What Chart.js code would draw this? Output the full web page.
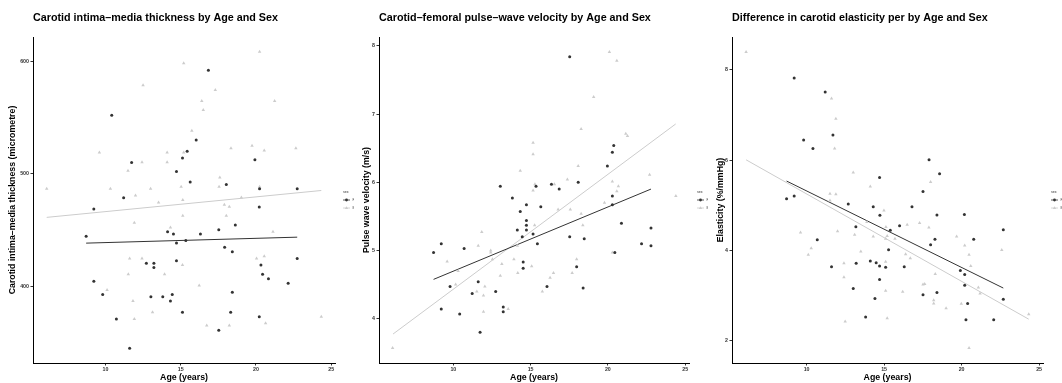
<!DOCTYPE html>
<html><head><meta charset="utf-8">
<script src="https://cdn.jsdelivr.net/npm/chart.js@4.4.0/dist/chart.umd.min.js"></script>
<style>
body{margin:0;background:#fff;width:1062px;height:383px;overflow:hidden;position:relative}
canvas{position:absolute;top:0}
</style></head><body>
<canvas id="c1" width="354" height="383" style="left:0"></canvas>
<canvas id="c2" width="354" height="383" style="left:354px"></canvas>
<canvas id="c3" width="354" height="383" style="left:708px"></canvas>
<script>
// shared x ticks
const ageTicks = [10, 15, 20, 25];

// panel 1 - carotid IMT (micrometre)
const imtTicks = [400, 500, 600];
const imtAgeF = [10.42,11.21,11.74,14.72,15.12,15.43,15.63,16.03,16.84,18.03,19.93,20.24,22.74,9.23,20.22,18.63,8.72,14.13,14.52,16.31,17.53,14.72,15.34,17.92,18.43,14.72,12.72,13.22,13.22,20.33,22.74,20.44,20.83,22.14,9.23,9.82,13.02,13.81,14.44,14.32,18.43,10.73,15.12,18.32,20.22,17.53,11.61];
const imtF    = [552,478.6,510,502,514,520,492.5,530,592,490.4,512.3,486.5,486.5,468.6,470.3,454.3,444.3,448.4,446.4,446.4,450.2,438.4,440.5,434.6,430.5,422.5,420.4,420.4,416.5,418.8,424.5,410.6,406.5,402.6,404.4,392.6,390.5,390.5,392.6,386.7,394.6,370.7,376.7,376.7,372.8,360.7,344.8];
const imtAgeM = [6.1,9.6,10.33,12.5,11.5,12.43,12.0,13.0,14.1,14.1,15.03,15.2,15.2,15.74,16.4,16.5,17.3,17.6,17.55,18.34,19.03,19.74,20.24,20.24,20.55,21.24,22.65,15.14,13.53,17.9,18.23,15.14,18.03,11.92,14.32,21.13,11.61,12.43,15.12,20.04,20.55,11.52,13.93,10.11,16.23,11.83,13.13,11.92,16.73,18.23,20.64,24.34];
const imtM    = [486.5,518.7,486.5,578.5,502.5,510.2,480.6,486.5,518.7,510.2,488.3,598.2,518.7,538.2,564.5,556.6,574.3,496.6,488.3,522.6,478.8,524.7,608.3,488.3,520.5,564.5,522.6,476.5,474.4,472.4,470.6,462.6,462.6,456.4,452.2,448.4,424.5,424.5,418.8,424.5,426.6,410.6,410.6,396.5,400.6,386.7,376.7,370.7,364.9,364.9,366.9,372.8];
const imtFitF = [[8.72, 438.2], [22.74, 443.5]];
const imtFitM = [[6.1, 461.1], [24.34, 485]];

// panel 2 - pulse wave velocity (m/s)
const pwvTicks = [4, 5, 6, 7, 8];
const pwvAgeF = [17.53,20.38,20.29,19.97,13.04,16.35,15.35,16.85,18.08,13.82,20.29,20.29,14.73,15.66,14.33,14.73,14.73,14.14,14.73,20.88,22.79,14.46,15.16,17.53,18.47,15.44,9.22,22.18,22.79,8.72,10.70,20.45,14.52,14.52,17.98,9.79,11.61,11.22,12.74,16.06,18.40,9.22,10.41,13.23,13.23,11.73];
const pwvF    = [7.84,6.54,6.44,6.24,5.94,5.97,5.94,5.90,6.00,5.77,5.80,5.67,5.67,5.64,5.57,5.44,5.37,5.30,5.30,5.40,5.33,5.20,5.24,5.20,5.17,5.10,5.10,5.10,5.07,4.97,5.03,4.97,4.83,4.74,4.76,4.47,4.54,4.37,4.40,4.47,4.45,4.14,4.07,4.17,4.10,3.80];
const pwvAgeM = [20.1,20.58,19.08,18.27,21.16,21.27,15.16,15.16,14.33,18.08,22.7,17.38,15.28,16.54,20.29,20.68,15.16,24.4,20.58,16.78,17.57,19.78,18.27,18.38,15.26,11.84,11.61,14.14,12.42,12.42,9.60,10.31,12.53,13.14,13.92,15.07,14.17,13.04,17.98,17.69,16.48,16.26,15.76,10.15,11.52,12.04,11.95,11.95,13.55,20.29,6.07];
const pwvM    = [7.91,7.78,7.25,6.78,6.71,6.68,6.58,6.41,6.17,6.24,6.11,6.04,5.97,5.97,6.01,5.94,5.88,5.80,5.87,5.60,5.60,5.70,5.54,5.37,5.37,5.27,5.07,5.07,5.0,4.97,4.84,4.70,4.87,4.80,4.87,4.77,4.67,4.63,4.87,4.67,4.67,4.60,4.40,4.50,4.40,4.47,4.34,4.10,4.14,4.97,3.57];
const pwvFitF = [[8.72, 4.576], [22.79, 5.90]];
const pwvFitM = [[6.1, 3.775], [24.39, 6.855]];

// panel 3 - elasticity (%/mmHg)
const elaTicks = [2, 4, 6, 8];
const elaAgeF = [9.20,11.20,11.70,9.81,10.41,17.90,18.58,14.71,17.51,9.20,8.71,12.69,14.30,14.73,16.80,18.41,20.18,13.18,16.0,15.40,22.69,10.69,18.28,20.78,18.0,15.29,11.61,13.20,14.11,14.49,14.71,15.10,16.30,19.92,20.20,14.71,13.01,20.20,17.51,18.41,14.41,22.69,20.39,13.81,20.28,22.07];
const elaF    = [7.82,7.51,6.56,6.45,6.26,6.01,5.70,5.62,5.31,5.21,5.15,5.03,4.97,4.78,4.97,4.79,4.80,4.53,4.55,4.45,4.46,4.24,4.25,4.25,4.13,4.02,3.64,3.72,3.77,3.73,3.66,3.63,3.64,3.56,3.47,3.36,3.16,3.23,3.02,3.07,2.94,2.92,2.83,2.53,2.47,2.47];
const elaAgeM = [6.10,11.61,11.89,11.81,13.01,14.11,18.0,11.51,11.89,11.51,14.99,9.61,12.0,13.89,15.12,13.10,14.30,15.20,15.70,15.10,16.49,17.29,17.89,19.68,20.20,20.48,22.59,10.30,10.11,13.50,16.39,16.69,15.10,12.41,20.59,12.41,18.30,15.10,16.20,17.51,17.62,21.08,21.19,18.20,18.20,19.0,19.98,24.33,15.20,12.49,20.48];
const elaM    = [8.40,7.37,6.92,6.26,5.73,5.42,5.52,5.26,5.25,5.11,4.89,4.40,4.43,4.63,4.52,4.35,4.31,4.32,4.26,4.26,4.57,4.61,4.51,4.31,4.11,3.91,4.01,4.05,3.91,3.98,3.92,3.83,3.75,3.72,3.66,3.41,3.48,3.11,3.09,3.25,3.26,3.18,3.05,2.90,2.83,2.72,2.82,2.59,2.50,2.43,1.84];
const elaFitF = [[8.71, 5.54], [22.69, 3.17]];
const elaFitM = [[6.10, 6.01], [24.33, 2.48]];

const FONT = '"Liberation Sans", Arial, Helvetica, sans-serif';
const DARK = '#333333', LIGHT = '#cccccc';

function pts(xs, ys){ return xs.map((x, i) => ({x: x, y: ys[i]})); }
function line(p){ return p.map(d => ({x: d[0], y: d[1]})); }

const titlePlugin = {
  id: 'panelTitle',
  afterDraw(chart, args, o){
    const ctx = chart.ctx;
    ctx.save();
    ctx.font = 'bold 10.75px ' + FONT;
    ctx.fillStyle = '#000';
    ctx.textBaseline = 'alphabetic';
    ctx.fillText(o.text, chart.chartArea.left, 20.5);
    ctx.restore();
  }
};

const sexLegend = {
  id: 'sexLegend',
  afterDraw(chart){
    const ctx = chart.ctx, a = chart.chartArea;
    const x0 = a.right + 8, yc = (a.top + a.bottom) / 2;
    ctx.save();
    ctx.font = '3.6px ' + FONT;
    ctx.textBaseline = 'middle';
    ctx.fillStyle = '#333';
    ctx.fillText('sex', x0, yc - 8);
    [['F', DARK, yc], ['M', LIGHT, yc + 8]].forEach(function(it){
      ctx.strokeStyle = it[1]; ctx.lineWidth = 0.8;
      ctx.beginPath(); ctx.moveTo(x0, it[2]); ctx.lineTo(x0 + 7, it[2]); ctx.stroke();
      ctx.fillStyle = it[1];
      ctx.beginPath();
      if (it[0] === 'F') ctx.arc(x0 + 3.5, it[2], 1.4, 0, Math.PI * 2);
      else { ctx.moveTo(x0 + 3.5, it[2] - 1.8); ctx.lineTo(x0 + 5.2, it[2] + 1.1); ctx.lineTo(x0 + 1.8, it[2] + 1.1); ctx.closePath(); }
      ctx.fill();
      ctx.fillStyle = '#333';
      ctx.fillText(it[0], x0 + 9.5, it[2]);
    });
    ctx.restore();
  }
};

function makePanel(id, title, yTitle, yMin, yMax, yTicks, fAge, fVal, mAge, mVal, fitF, fitM, leftW){
  new Chart(document.getElementById(id), {
    type: 'scatter',
    data: {
      datasets: [
        {label: 'F', data: pts(fAge, fVal), pointStyle: 'circle', pointRadius: 1.5,
         backgroundColor: DARK, borderColor: DARK, borderWidth: 0},
        {label: 'M', data: pts(mAge, mVal), pointStyle: 'triangle', pointRadius: 2,
         backgroundColor: LIGHT, borderColor: LIGHT, borderWidth: 0},
        {label: 'F fit', data: line(fitF), showLine: true, pointRadius: 0,
         borderColor: DARK, borderWidth: 1},
        {label: 'M fit', data: line(fitM), showLine: true, pointRadius: 0,
         borderColor: LIGHT, borderWidth: 1}
      ]
    },
    options: {
      responsive: false,
      animation: false,
      events: [],
      layout: {padding: {top: 37, right: 19, left: 0, bottom: 0}},
      plugins: {
        legend: {display: false},
        tooltip: {enabled: false},
        panelTitle: {text: title}
      },
      scales: {
        x: {
          type: 'linear', min: 5.19, max: 25.25,
          afterBuildTicks: s => { s.ticks = ageTicks.map(v => ({value: v})); },
          afterFit: s => { s.height = 20; },
          ticks: {font: {family: FONT, size: 5.3, weight: 'bold'}, color: '#333', padding: 1, maxRotation: 0},
          grid: {drawOnChartArea: false, tickLength: 2.5, color: '#333'},
          border: {display: true, color: '#000', width: 1},
          title: {display: true, text: 'Age (years)', color: '#000',
                  font: {family: FONT, size: 8.8, weight: 'bold'}, padding: {top: 0, bottom: 0.6}}
        },
        y: {
          type: 'linear', min: yMin, max: yMax,
          afterBuildTicks: s => { s.ticks = yTicks.map(v => ({value: v})); },
          afterFit: s => { s.width = leftW; },
          ticks: {font: {family: FONT, size: 5.3, weight: 'bold'}, color: '#333', padding: 1.5},
          grid: {drawOnChartArea: false, tickLength: 2.5, color: '#333'},
          border: {display: true, color: '#000', width: 1},
          title: {display: true, text: yTitle, color: '#000',
                  font: {family: FONT, size: 8.8, weight: 'bold'}, padding: {top: 7.5, bottom: 0}}
        }
      }
    },
    plugins: [titlePlugin, sexLegend]
  });
}

makePanel('c1', 'Carotid intima\u2013media thickness by Age and Sex', 'Carotid intima\u2013media thickness (micrometre)',
  331.6, 621.5, imtTicks, imtAgeF, imtF, imtAgeM, imtM, imtFitF, imtFitM, 33);
makePanel('c2', 'Carotid\u2013femoral pulse\u2013wave velocity by Age and Sex', 'Pulse wave velocity (m/s)',
  3.35, 8.13, pwvTicks, pwvAgeF, pwvF, pwvAgeM, pwvM, pwvFitF, pwvFitM, 25);
makePanel('c3', 'Difference in carotid elasticity per by Age and Sex', 'Elasticity (%/mmHg)',
  1.51, 8.73, elaTicks, elaAgeF, elaF, elaAgeM, elaM, elaFitF, elaFitM, 24);
</script>
</body></html>
